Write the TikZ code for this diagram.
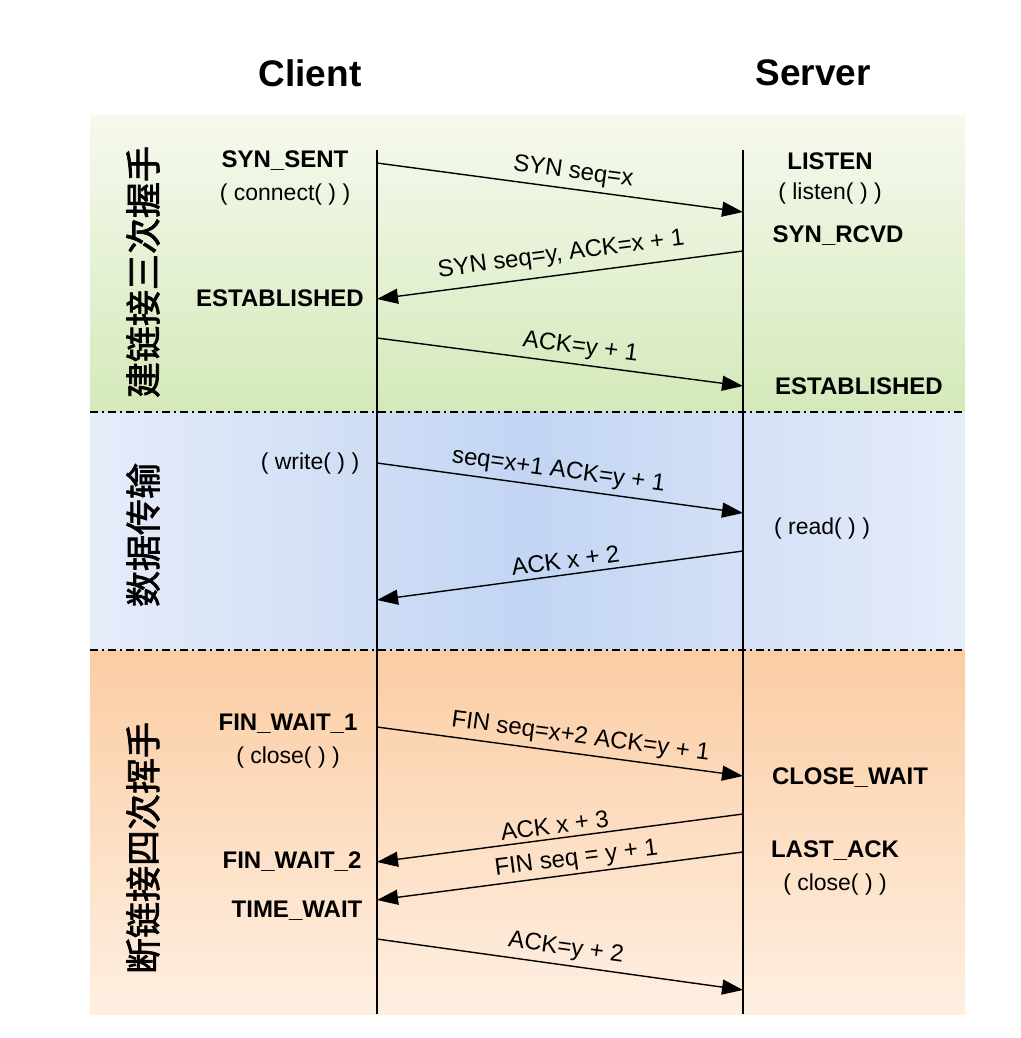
\documentclass[tikz,border=0pt]{standalone}
\usepackage{fontspec}
\setmainfont{Liberation Sans}
\newfontfamily\cjk[AutoFakeBold=2]{Noto Sans CJK SC}
\usetikzlibrary{arrows.meta,positioning}
\definecolor{greenTop}{RGB}{246,249,238}
\definecolor{greenBot}{RGB}{212,233,186}
\definecolor{blueIn}{RGB}{194,213,243}
\definecolor{blueOut}{RGB}{230,236,249}
\definecolor{orangeTop}{RGB}{251,205,163}
\definecolor{orangeBot}{RGB}{254,239,226}
\tikzset{
	msg/.style={line width=1.4pt, -{Triangle[length=21pt,width=15pt]}},
	lbl/.style={font=\fontsize{24}{26}\selectfont, sloped, above, inner sep=5pt}
}

\begin{document}
\begin{tikzpicture}[x=1pt, y=-1pt,
		title/.style={font=\fontsize{37}{40}\selectfont\bfseries},
		state/.style={font=\fontsize{24}{26}\selectfont\bfseries, inner sep=0pt},
		call/.style={font=\fontsize{23}{25}\selectfont, inner sep=0pt},
		phase/.style={font=\cjk\bfseries\fontsize{36}{38}\selectfont, rotate=90},
		life/.style={line width=1.3pt},
		sep/.style={line width=1.8pt, dash pattern=on 8pt off 4pt on 2pt off 4pt}]
		\useasboundingbox (0,0) rectangle (1020,1038);
		\shade[top color=greenTop, bottom color=greenBot] (90,116) rectangle (965,412);
		\shade[left color=blueOut, right color=blueOut, middle color=blueIn] (90,412) rectangle (965,650);
		\shade[top color=orangeTop, bottom color=orangeBot] (90,650) rectangle (965,1014);
		\draw[sep] (90,412) -- (965,412);
		\draw[sep] (90,650) -- (965,650);

		\node[title] (client) at (310,73) {Client};
		\node[title] (server) at (813,73) {Server};
		\coordinate (ctop) at (377,150);
		\coordinate (cbot) at (377,1014);
		\coordinate (stop) at (743,150);
		\coordinate (sbot) at (743,1014);
		\draw[life] (ctop) -- (cbot);
		\draw[life] (stop) -- (sbot);

		\node[phase] (open) at (143,272) {建链接三次握手};
		\node[phase] (data) at (143,535) {数据传输};
		\node[phase] (close) at (143,848) {断链接四次挥手};

		\node[state] (synsent) at (285,161) {SYN\_SENT};
		\node[call, below=13pt of synsent] (connect) {( connect( ) )};
		\node[state] (cest) at (280,298) {ESTABLISHED};
		\node[call] (write) at (310,464) {( write( ) )};
		\node[state] (finwa) at (288,724) {FIN\_WAIT\_1};
		\node[call, below=13pt of finwa] (cclose) {( close( ) )};
		\node[state] (finwb) at (292,862) {FIN\_WAIT\_2};
		\node[state] (timewait) at (297,911) {TIME\_WAIT};

		\node[state] (listen) at (830,161) {LISTEN};
		\node[call, below=13pt of listen] (listenc) {( listen( ) )};
		\node[state] (synrcvd) at (838,236) {SYN\_RCVD};
		\node[state] (sest) at (859,386) {ESTABLISHED};
		\node[call] (read) at (822,529) {( read( ) )};
		\node[state] (closewait) at (850,778) {CLOSE\_WAIT};
		\node[state] (lastack) at (835,851) {LAST\_ACK};
		\node[call, below=13pt of lastack] (sclose) {( close( ) )};

		\coordinate (c1) at (377,163);  \coordinate (s1) at (743,212);
		\coordinate (s2) at (743,251);  \coordinate (c2) at (377,299);
		\coordinate (c3) at (377,338);  \coordinate (s3) at (743,386);
		\coordinate (c4) at (377,463);  \coordinate (s4) at (743,513);
		\coordinate (s5) at (743,551);  \coordinate (c5) at (377,600);
		\coordinate (c6) at (377,727);  \coordinate (s6) at (743,776);
		\coordinate (s7) at (743,814);  \coordinate (c7) at (377,862);
		\coordinate (s8) at (743,852);  \coordinate (c8) at (377,900);
		\coordinate (c9) at (377,939);  \coordinate (s9) at (743,990);

		\draw[msg] (c1) -- node[lbl, pos=0.53] {SYN seq=x} (s1);
		\draw[msg] (s2) -- node[lbl, pos=0.49, inner sep=8pt] {SYN seq=y, ACK=x + 1} (c2);
		\draw[msg] (c3) -- node[lbl, pos=0.55] {ACK=y + 1} (s3);
		\draw[msg] (c4) -- node[lbl, pos=0.49] {seq=x+1 ACK=y + 1} (s4);
		\draw[msg] (s5) -- node[lbl, pos=0.48] {ACK x + 2} (c5);
		\draw[msg] (c6) -- node[lbl, pos=0.55] {FIN seq=x+2 ACK=y + 1} (s6);
		\draw[msg] (s7) -- node[lbl, pos=0.51, inner sep=4pt] {ACK x + 3} (c7);
		\draw[msg] (s8) -- node[lbl, pos=0.45, inner sep=3pt] {FIN seq = y + 1} (c8);
		\draw[msg] (c9) -- node[lbl, pos=0.51] {ACK=y + 2} (s9);
	\end{tikzpicture}
\end{document}
